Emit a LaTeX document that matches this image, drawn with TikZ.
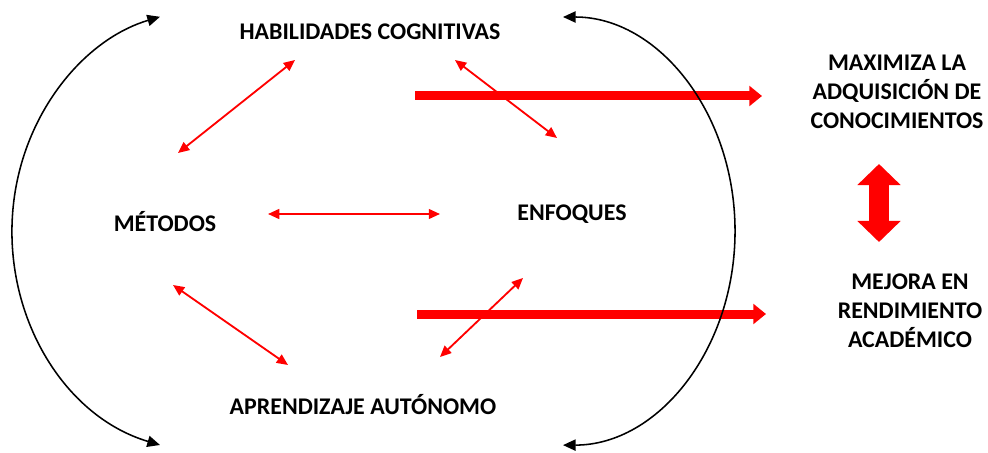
\documentclass[tikz,border=0pt]{standalone}
\usepackage{fontspec}
\setmainfont{Carlito}
\usetikzlibrary{arrows.meta}

\begin{document}
\begin{tikzpicture}[x=0.025cm,y=-0.025cm,
  lbl/.style={font=\bfseries\fontsize{17}{20.6}\selectfont,align=center,inner sep=0pt},
  lazo/.style={red,line width=1.3pt,{Triangle[length=8pt,width=7pt]}-{Triangle[length=8pt,width=7pt]}},
  ciclo/.style={black,line width=1.1pt,{Triangle[length=9pt,width=8pt]}-{Triangle[length=9pt,width=8pt]}},
  flujo/.style={red,line width=6.4pt,-{Triangle[length=9pt,width=14pt]}}]
\useasboundingbox (0,0) rectangle (988,453);
\node [lbl] (hab) at (370,32) {HABILIDADES COGNITIVAS};
\node [lbl] (met) at (165,222) {MÉTODOS};
\node [lbl] (enf) at (572,214) {ENFOQUES};
\node [lbl] (apr) at (363,405) {APRENDIZAJE AUTÓNOMO};
\node [lbl] (maxi) at (897,92) {MAXIMIZA LA\\ADQUISICIÓN DE\\CONOCIMIENTOS};
\node [lbl] (mejora) at (910,311) {MEJORA EN\\RENDIMIENTO\\ACADÉMICO};
\coordinate (mh) at (178,153);
\coordinate (hm) at (295,60);
\coordinate (he) at (455,60);
\coordinate (eh) at (557,138);
\coordinate (me) at (268,214);
\coordinate (em) at (440,214);
\coordinate (ma) at (173,285);
\coordinate (am) at (288,365);
\coordinate (ae) at (440,357);
\coordinate (ea) at (523,278);
\draw [lazo] (mh) -- (hm);
\draw [lazo] (he) -- (eh);
\draw [lazo] (me) -- (em);
\draw [lazo] (ma) -- (am);
\draw [lazo] (ae) -- (ea);
\coordinate (f1) at (415,96);
\coordinate (f1e) at (762,96);
\coordinate (f2) at (417,314);
\coordinate (f2e) at (766,314);
\draw [flujo] (f1) -- (f1e);
\draw [flujo] (f2) -- (f2e);
\coordinate (lb) at (160,445);
\coordinate (rt) at (563,17);
\draw [ciclo] (lb) arc [start angle=255, end angle=105, x radius=4.99cm, y radius=5.54cm];
\draw [ciclo] (rt) arc [start angle=90, end angle=-90, x radius=4.3cm, y radius=5.35cm];
\coordinate (dtop) at (879,164);
\coordinate (dbot) at (879,242);
\draw [red,line width=0.5cm,{Triangle[length=0.525cm,width=1.05cm]}-{Triangle[length=0.525cm,width=1.05cm]}] (dtop) -- (dbot);
\end{tikzpicture}
\end{document}
